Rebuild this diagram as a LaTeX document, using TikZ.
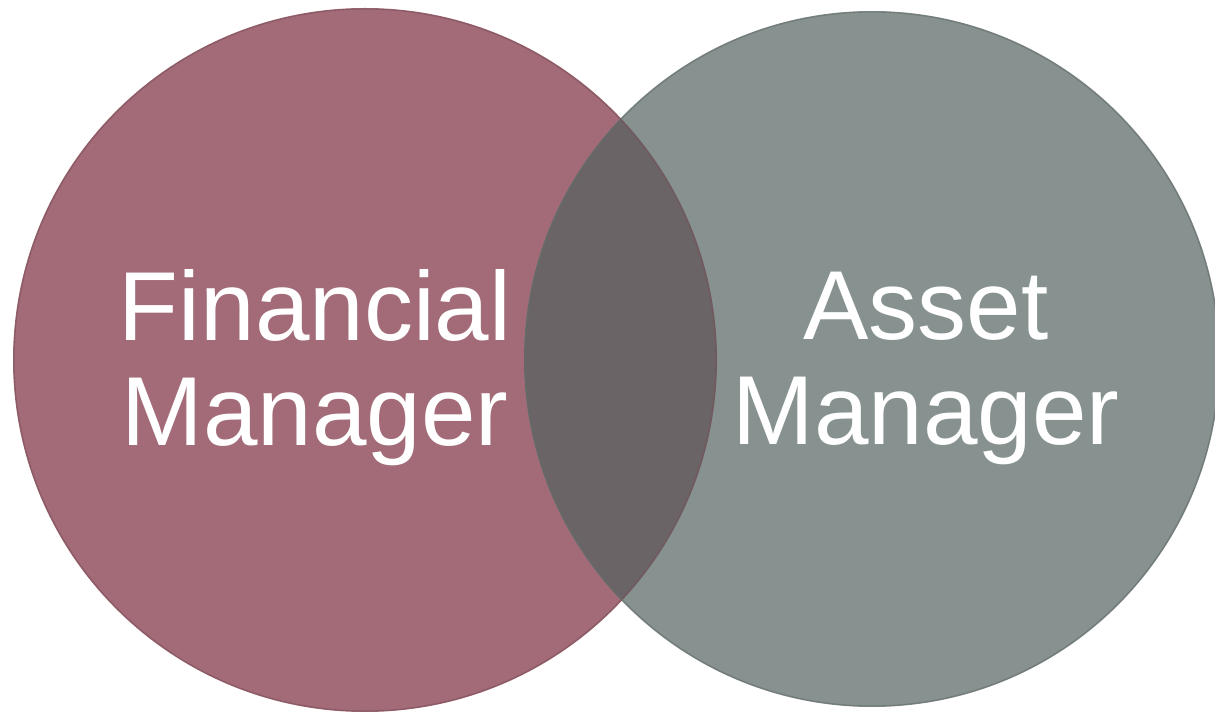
\documentclass[tikz,border=0pt]{standalone}
\usepackage{fontspec}
\setmainfont{Liberation Sans}
\definecolor{finfill}{HTML}{A36B77}
\definecolor{assetfill}{HTML}{879290}
\definecolor{bothfill}{HTML}{6A6466}
\begin{document}
\begin{tikzpicture}[x=1pt,y=1pt,
  setcircle/.style={circle,inner sep=0pt,minimum size=#1},
  setlabel/.style={text=white,align=center,inner sep=0pt,font=\fontsize{98}{105}\selectfont}]
\useasboundingbox (0,0) rectangle (1215,715);
\node[setcircle=704pt,fill=finfill] (fin) at (365,355) {};
\node[setcircle=696pt,fill=assetfill] (asset) at (872,356) {};
% overlap of the two sets
\begin{scope}
\clip (fin.center) circle (352pt);
\fill[bothfill] (asset.center) circle (348pt);
\end{scope}
\draw[finfill!75!black,line width=1.2pt,opacity=0.6] (fin.center) circle (351pt);
\draw[assetfill!75!black,line width=1.2pt,opacity=0.6] (asset.center) circle (347pt);
\node[setlabel] (finlabel) at (315,347) {Financial\\Manager};
\node[setlabel] (assetlabel) at (926,347) {Asset\\Manager};
\end{tikzpicture}
\end{document}
